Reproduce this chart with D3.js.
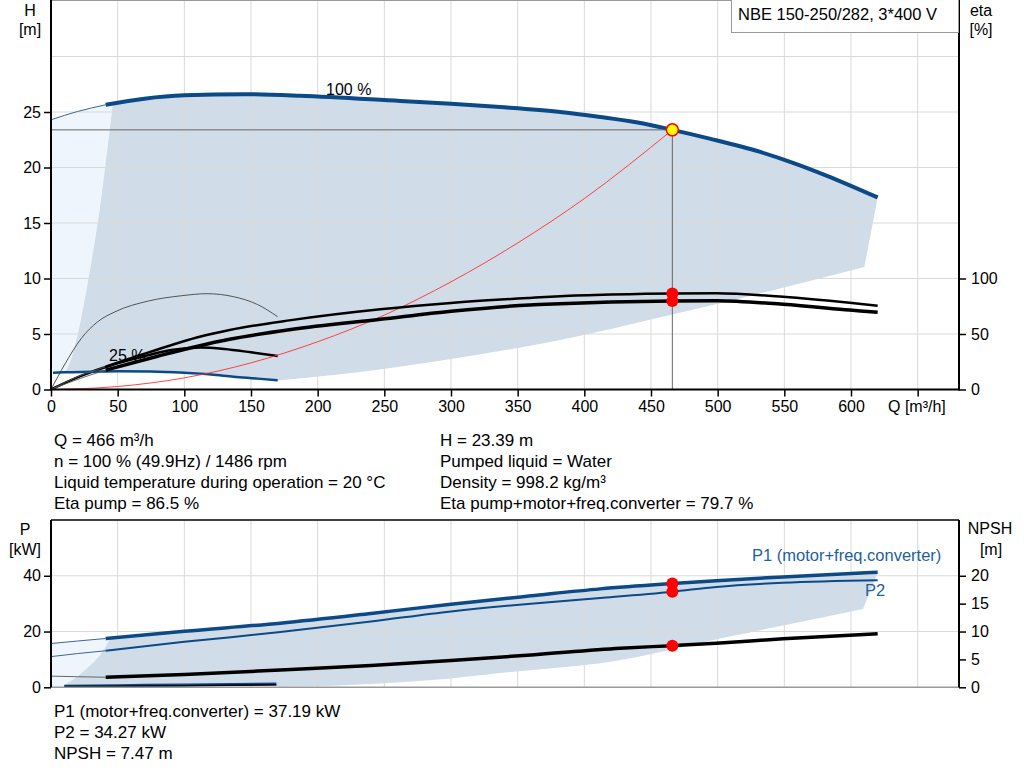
<!DOCTYPE html>
<html>
<head>
    <meta charset="utf-8">
    <style>
        body { margin: 0; background: #fff; }
        svg { display: block; font-family: 'Liberation Sans', Arial, sans-serif; }
        .grid line { stroke: #d9d9d9; stroke-width: 1px; }
        .axis text { font-size: 16px; fill: #000; }
        .axis .domain { display: none; }
        .axis .tick line { stroke: #000; stroke-width: 1.5px; }
        .info { font-size: 17px; fill: #000; }
        .unit { font-size: 16px; fill: #000; text-anchor: middle; }
    </style>
</head>
<body>
<svg id="chart" width="1024" height="781"></svg>

<script src="https://d3js.org/d3.v7.min.js"></script>
<script>
    // ticks
    const qTicks = [0, 50, 100, 150, 200, 250, 300, 350, 400, 450, 500, 550, 600, 650];
    const hTicks = [0, 5, 10, 15, 20, 25];
    const hGrid = [5, 10, 15, 20, 25, 30];
    const etaTicks = [0, 50, 100];
    const pTicks = [0, 20, 40];
    const npshTicks = [0, 5, 10, 15, 20];

    // [Q m3/h, H m]
    const head100 = [[0, 24.3], [20, 25.05], [41, 25.65], [70, 26.2], [100, 26.5], [145, 26.6], [187, 26.47],
        [262, 26.0], [300, 25.75], [337, 25.45], [382, 25.0], [412, 24.55], [440, 24.05], [466, 23.39],
        [494, 22.6], [532, 21.4], [557, 20.4], [582, 19.25], [620, 17.3]];
    const head25 = [[1.5, 1.5], [10, 1.55], [30, 1.6], [50, 1.65], [75, 1.62], [100, 1.5], [120, 1.35],
        [137, 1.15], [155, 0.98], [170, 0.82]];
    const systemCurve = [[0, 0], [50, 0.27], [100, 1.05], [150, 2.4], [200, 4.3], [250, 6.7], [300, 9.7],
        [350, 13.2], [400, 17.2], [466, 23.39]];

    // [Q, eta %]
    const etaPump100 = [[0, 0], [22, 12.5], [41, 20.5], [80, 36], [110, 47], [134, 53.6], [180, 62.5],
        [247, 72.3], [300, 78], [359, 82.5], [382, 84.0], [420, 85.5], [466, 86.5], [499, 86.6],
        [549, 83.6], [599, 78.2], [620, 75.5]];
    const etaTotal100 = [[0, 0], [22, 10], [41, 17.5], [80, 30], [110, 39], [134, 45.2], [180, 54],
        [247, 63.2], [300, 70.5], [359, 76.2], [382, 77.3], [420, 78.8], [466, 79.7], [499, 80],
        [549, 76.7], [599, 71.6], [620, 69.5]];
    const etaPump25 = [[0, 0], [10, 22], [22.7, 46], [35, 61], [48, 70], [73, 79.7], [98, 84.5], [117, 86.3],
        [137, 83.6], [155, 76.5], [170, 65.6]];
    const etaTotal25 = [[0, 0], [22, 12], [48, 23], [70, 30], [90, 35.5], [112, 37.8], [130, 36.5],
        [150, 33.5], [170, 30.2]];

    // operating range edges, [Q, H]
    const rangeLeft = [[10, 1.55], [13, 2.1], [19.7, 4.8], [26.5, 8.9], [31, 12.0], [37.5, 17.1], [42, 21.4], [46.5, 25.8]];
    const rangeBottom = [[170, 0.82], [217, 1.37], [300, 2.75], [382, 4.46], [466, 6.75], [540, 8.9], [610, 11.04]];

    // [Q, P kW] and [Q, NPSH m]
    const p1Curve = [[0, 15.7], [20, 16.6], [41, 17.5], [100, 20.1], [172, 23.0], [240, 26.5], [300, 29.8],
        [360, 32.8], [412, 35.3], [466, 37.19], [499, 38.2], [549, 39.6], [620, 41.3]];
    const p2Curve = [[0, 11.0], [20, 12.1], [41, 13.1], [100, 16.3], [172, 19.8], [240, 23.6], [300, 27.2],
        [360, 30.0], [412, 32.0], [466, 34.27], [499, 36.0], [549, 37.5], [620, 38.4]];
    const npshCurve = [[0, 2.0], [20, 1.9], [41, 1.8], [100, 2.3], [172, 3.1], [240, 3.9], [300, 4.8],
        [360, 5.8], [427, 7.0], [466, 7.47], [499, 7.9], [549, 8.7], [620, 9.6]];
    const p1Curve25 = [[10, 0.4], [50, 0.6], [100, 0.85], [169, 1.2]];
    const p2Curve25 = [[10, 0.25], [50, 0.4], [100, 0.6], [169, 0.9]];
    const pRangeLeft = [[9, 0.5], [16, 2.6], [24, 5.6], [30.5, 8.4], [36.8, 11.6], [41, 14.5], [44.3, 17.65]];
    const pRangeBottom = [[169, 0.3], [200, 0.45], [247, 1.4], [300, 3.2], [347, 5.6], [412, 8.6], [510, 18.3], [609, 28.1]];

    const duty = { q: 466, h: 23.39, etaPump: 86.5, etaTotal: 79.7, p1: 37.19, p2: 34.27, npsh: 7.47 };

    const infoLeft = ["Q = 466 m³/h", "n = 100 % (49.9Hz) / 1486 rpm",
        "Liquid temperature during operation = 20 °C", "Eta pump = 86.5 %"];
    const infoRight = ["H = 23.39 m", "Pumped liquid = Water", "Density = 998.2 kg/m³",
        "Eta pump+motor+freq.converter = 79.7 %"];
    const infoBottom = ["P1 (motor+freq.converter) = 37.19 kW", "P2 = 34.27 kW", "NPSH = 7.47 m"];

    const blue = "#0b4a86";
    const left = 51, right = 959;

    const svg = d3.select("#chart");

    const x = d3.scaleLinear().domain([0, 681]).range([left, right]);
    const yH = d3.scaleLinear().domain([0, 35]).range([389.5, 1]);
    const yEta = d3.scaleLinear().domain([0, 350]).range([389.5, 1]);
    const yP = d3.scaleLinear().domain([0, 60]).range([687.3, 520]);
    const yN = d3.scaleLinear().domain([0, 30]).range([687.3, 520]);

    function lineFor(ys) {
        return d3.line().x(d => x(d[0])).y(d => ys(d[1])).curve(d3.curveMonotoneX);
    }
    const lineH = lineFor(yH), lineEta = lineFor(yEta), lineP = lineFor(yP), lineN = lineFor(yN);

    // join several curve pieces into one closed outline
    function outline(gen, pieces) {
        return pieces.map((p, i) => {
            let s = gen(p);
            return i == 0 ? s : "L" + s.slice(1);
        }).join("") + "Z";
    }

    const upTo = (arr, q) => arr.filter(d => d[0] <= q);
    const from = (arr, q) => arr.filter(d => d[0] >= q);

    // ---------- head / efficiency chart ----------
    let headG = svg.append("g");

    // light zone on the left
    headG.append("path")
        .attr("fill", "#eef5fc")
        .attr("d", outline(lineH, [
            upTo(head100, 41).concat([[46.5, 25.8]]),
            rangeLeft.slice().reverse(),
            upTo(head25, 10).reverse(),
            [[1.5, 1.5], [0, 1.5]]
        ]));

    // operating range
    headG.append("path")
        .attr("fill", "#d0dce8")
        .attr("d", outline(lineH, [
            [[46.5, 25.8]].concat(from(head100, 70)),
            rangeBottom.slice().reverse(),
            from(head25, 10).reverse(),
            rangeLeft
        ]));

    let gridTop = headG.append("g").attr("class", "grid");
    gridTop.selectAll(".v").data(qTicks.slice(1)).join("line")
        .attr("x1", d => x(d)).attr("x2", d => x(d))
        .attr("y1", 0).attr("y2", yH(0));
    gridTop.selectAll(".h").data(hGrid).join("line")
        .attr("x1", left).attr("x2", right)
        .attr("y1", d => yH(d)).attr("y2", d => yH(d));

    // 25 % curves
    headG.append("path").attr("d", lineEta(etaPump25))
        .attr("fill", "none").attr("stroke", "#444").attr("stroke-width", 0.9);
    headG.append("path").attr("d", lineEta(etaTotal25))
        .attr("fill", "none").attr("stroke", "#000").attr("stroke-width", 2.5);
    headG.append("path").attr("d", lineH(head25))
        .attr("fill", "none").attr("stroke", blue).attr("stroke-width", 2.5);

    // system curve
    headG.append("path").attr("d", lineH(systemCurve))
        .attr("fill", "none").attr("stroke", "#ff3030").attr("stroke-width", 0.9);

    // 100 % curves
    [[etaPump100, 2.5], [etaTotal100, 3.5]].forEach(function(c) {
        headG.append("path").attr("d", lineEta(upTo(c[0], 41)))
            .attr("fill", "none").attr("stroke", "#555").attr("stroke-width", 0.9);
        headG.append("path").attr("d", lineEta(from(c[0], 41)))
            .attr("fill", "none").attr("stroke", "#000").attr("stroke-width", c[1]);
    });
    headG.append("path").attr("d", lineH(upTo(head100, 41)))
        .attr("fill", "none").attr("stroke", "#3a6796").attr("stroke-width", 1);
    headG.append("path").attr("d", lineH(from(head100, 41)))
        .attr("fill", "none").attr("stroke", blue).attr("stroke-width", 4);

    // duty point guides
    headG.append("line")
        .attr("x1", left).attr("x2", x(duty.q))
        .attr("y1", yH(duty.h)).attr("y2", yH(duty.h))
        .attr("stroke", "#666").attr("stroke-width", 1);
    headG.append("line")
        .attr("x1", x(duty.q)).attr("x2", x(duty.q))
        .attr("y1", yH(duty.h)).attr("y2", yH(0))
        .attr("stroke", "#666").attr("stroke-width", 1);

    headG.selectAll(".etadot").data([duty.etaPump, duty.etaTotal]).join("circle")
        .attr("cx", x(duty.q)).attr("cy", d => yEta(d)).attr("r", 6).attr("fill", "#ff0000");
    headG.append("circle")
        .attr("cx", x(duty.q)).attr("cy", yH(duty.h)).attr("r", 6)
        .attr("fill", "#ffff00").attr("stroke", "#ff0000").attr("stroke-width", 1.5);

    headG.append("text").attr("x", 326).attr("y", 95).attr("font-size", "16px").text("100 %");
    headG.append("text").attr("x", 109).attr("y", 361).attr("font-size", "16px").text("25 %");

    // frame and axes
    headG.append("line").attr("x1", left).attr("x2", right).attr("y1", 0.5).attr("y2", 0.5)
        .attr("stroke", "#999").attr("stroke-width", 1);

    headG.append("g").attr("class", "axis")
        .attr("transform", `translate(${left},0)`)
        .call(d3.axisLeft(yH).tickValues(hTicks).tickSize(7).tickPadding(3));
    headG.append("g").attr("class", "axis")
        .attr("transform", `translate(${right},0)`)
        .call(d3.axisRight(yEta).tickValues(etaTicks).tickSize(7).tickPadding(5));
    headG.append("g").attr("class", "axis")
        .attr("transform", `translate(0,${yH(0)})`)
        .call(d3.axisBottom(x).tickValues(qTicks).tickSize(7).tickPadding(4)
            .tickFormat(d => d <= 600 ? d : ""));

    headG.append("line").attr("x1", left).attr("x2", left).attr("y1", 0).attr("y2", yH(0) + 1)
        .attr("stroke", "#000").attr("stroke-width", 2);
    headG.append("line").attr("x1", right).attr("x2", right).attr("y1", 0).attr("y2", yH(0) + 1)
        .attr("stroke", "#000").attr("stroke-width", 2);
    headG.append("line").attr("x1", left).attr("x2", right).attr("y1", yH(0)).attr("y2", yH(0))
        .attr("stroke", "#000").attr("stroke-width", 2);

    headG.append("text").attr("class", "unit").attr("x", 30).attr("y", 16).text("H");
    headG.append("text").attr("class", "unit").attr("x", 30).attr("y", 35).text("[m]");
    headG.append("text").attr("class", "unit").attr("x", 981).attr("y", 16).text("eta");
    headG.append("text").attr("class", "unit").attr("x", 981).attr("y", 35).text("[%]");
    headG.append("text").attr("x", 888).attr("y", 412).attr("font-size", "16px").text("Q [m³/h]");

    // title box
    headG.append("rect").attr("x", 731.5).attr("y", -1).attr("width", 227).attr("height", 33.5)
        .attr("fill", "#fff").attr("stroke", "#999").attr("stroke-width", 1);
    headG.append("text").attr("x", 738).attr("y", 20).attr("font-size", "16.5px")
        .text("NBE 150-250/282, 3*400 V");

    // ---------- info text ----------
    svg.append("g").selectAll("text").data(infoLeft).join("text")
        .attr("class", "info").attr("x", 54).attr("y", (d, i) => 446 + i * 21).text(d => d);
    svg.append("g").selectAll("text").data(infoRight).join("text")
        .attr("class", "info").attr("x", 440).attr("y", (d, i) => 446 + i * 21).text(d => d);
    svg.append("g").selectAll("text").data(infoBottom).join("text")
        .attr("class", "info").attr("x", 54).attr("y", (d, i) => 717 + i * 21).text(d => d);

    // ---------- power / NPSH chart ----------
    let powerG = svg.append("g");

    powerG.append("path")
        .attr("fill", "#eef5fc")
        .attr("d", outline(lineP, [
            upTo(p1Curve, 41).concat([[44.3, 17.65]]),
            pRangeLeft.slice().reverse(),
            [[9, 0], [0, 0]]
        ]));
    powerG.append("path")
        .attr("fill", "#d0dce8")
        .attr("d", outline(lineP, [
            [[44.3, 17.65]].concat(from(p1Curve, 100)),
            pRangeBottom.slice().reverse(),
            p1Curve25.slice().reverse(),
            pRangeLeft
        ]));

    let gridBot = powerG.append("g").attr("class", "grid");
    gridBot.selectAll(".v").data(qTicks.slice(1)).join("line")
        .attr("x1", d => x(d)).attr("x2", d => x(d))
        .attr("y1", yP(60)).attr("y2", yP(0));
    gridBot.selectAll(".h").data([20, 40]).join("line")
        .attr("x1", left).attr("x2", right)
        .attr("y1", d => yP(d)).attr("y2", d => yP(d));

    powerG.append("path").attr("d", lineP(p1Curve25))
        .attr("fill", "none").attr("stroke", blue).attr("stroke-width", 3);
    powerG.append("path").attr("d", lineP(p2Curve25))
        .attr("fill", "none").attr("stroke", "#000").attr("stroke-width", 1.5);

    powerG.append("path").attr("d", lineN(upTo(npshCurve, 41)))
        .attr("fill", "none").attr("stroke", "#666").attr("stroke-width", 1);
    powerG.append("path").attr("d", lineN(from(npshCurve, 41)))
        .attr("fill", "none").attr("stroke", "#000").attr("stroke-width", 3.5);
    powerG.append("path").attr("d", lineP(upTo(p2Curve, 41)))
        .attr("fill", "none").attr("stroke", "#3a6796").attr("stroke-width", 1);
    powerG.append("path").attr("d", lineP(from(p2Curve, 41)))
        .attr("fill", "none").attr("stroke", blue).attr("stroke-width", 2);
    powerG.append("path").attr("d", lineP(upTo(p1Curve, 41)))
        .attr("fill", "none").attr("stroke", "#3a6796").attr("stroke-width", 1);
    powerG.append("path").attr("d", lineP(from(p1Curve, 41)))
        .attr("fill", "none").attr("stroke", blue).attr("stroke-width", 3.5);

    powerG.selectAll(".pdot").data([yP(duty.p1), yP(duty.p2), yN(duty.npsh)]).join("circle")
        .attr("cx", x(duty.q)).attr("cy", d => d).attr("r", 6).attr("fill", "#ff0000");

    powerG.append("text").attr("x", 752).attr("y", 561).attr("font-size", "16.5px")
        .attr("fill", "#1f5f9c").text("P1 (motor+freq.converter)");
    powerG.append("text").attr("x", 865).attr("y", 596).attr("font-size", "16.5px")
        .attr("fill", "#1f5f9c").text("P2");

    powerG.append("g").attr("class", "axis")
        .attr("transform", `translate(${left},0)`)
        .call(d3.axisLeft(yP).tickValues(pTicks).tickSize(7).tickPadding(3));
    powerG.append("g").attr("class", "axis")
        .attr("transform", `translate(${right},0)`)
        .call(d3.axisRight(yN).tickValues(npshTicks).tickSize(7).tickPadding(5));

    powerG.append("line").attr("x1", left).attr("x2", right).attr("y1", yP(0)).attr("y2", yP(0))
        .attr("stroke", "#999").attr("stroke-width", 1.5);
    powerG.append("line").attr("x1", left).attr("x2", right).attr("y1", yP(60)).attr("y2", yP(60))
        .attr("stroke", "#000").attr("stroke-width", 1.5);
    powerG.append("line").attr("x1", left).attr("x2", left).attr("y1", yP(60)).attr("y2", yP(0))
        .attr("stroke", "#000").attr("stroke-width", 2);
    powerG.append("line").attr("x1", right).attr("x2", right).attr("y1", yP(60)).attr("y2", yP(0))
        .attr("stroke", "#000").attr("stroke-width", 2);

    powerG.append("text").attr("class", "unit").attr("x", 25).attr("y", 535).text("P");
    powerG.append("text").attr("class", "unit").attr("x", 25).attr("y", 555).text("[kW]");
    powerG.append("text").attr("class", "unit").attr("x", 990).attr("y", 534).text("NPSH");
    powerG.append("text").attr("class", "unit").attr("x", 991).attr("y", 555).text("[m]");
</script>
</body>
</html>
